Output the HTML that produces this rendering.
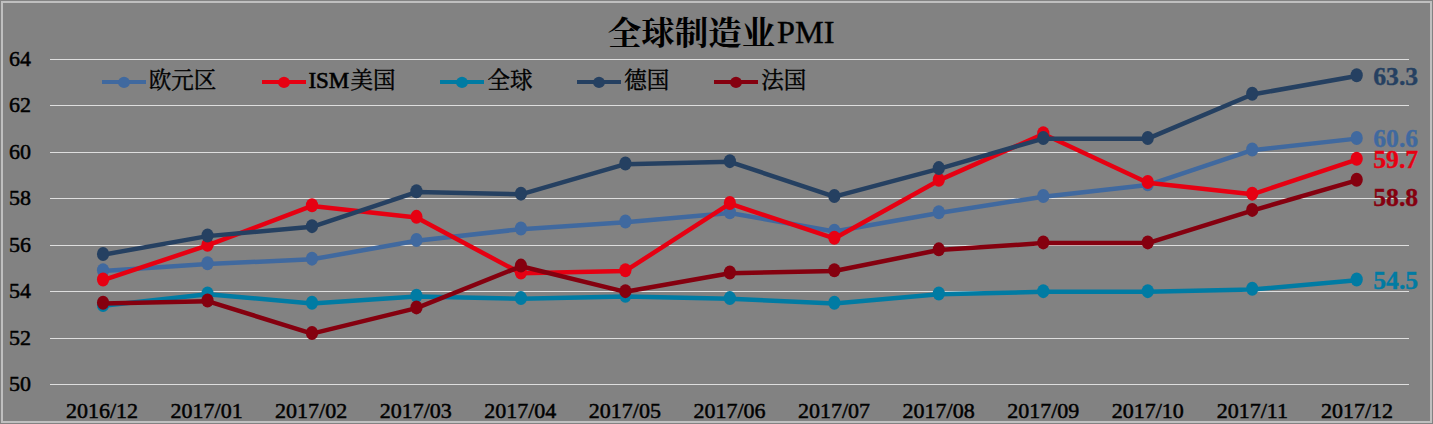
<!DOCTYPE html>
<html><head><meta charset="utf-8"><title>PMI</title>
<style>
html,body{margin:0;padding:0;background:#828282;}
body{width:1433px;height:424px;overflow:hidden;}
svg{display:block;position:absolute;left:0;top:0;}
text{font-family:"Liberation Serif","Noto Serif CJK SC",serif;}
.ax{font-size:22px;fill:#000;stroke:#000;stroke-width:0.5;}
.lb{font-size:25.7px;font-weight:bold;stroke-width:0.35;}
</style></head><body>
<svg width="1433" height="424" viewBox="0 0 1433 424">
<rect x="0" y="0" width="1433" height="424" fill="#828282"/>
<rect x="2" y="2" width="1429" height="420" fill="none" stroke="#bfbfbf" stroke-width="2"/>
<rect x="50" y="59" width="1359" height="1" fill="#dedede"/>
<text class="ax" x="9" y="66.1">64</text>
<rect x="50" y="105" width="1359" height="1" fill="#dedede"/>
<text class="ax" x="9" y="112.1">62</text>
<rect x="50" y="152" width="1359" height="1" fill="#dedede"/>
<text class="ax" x="9" y="159.1">60</text>
<rect x="50" y="198" width="1359" height="1" fill="#dedede"/>
<text class="ax" x="9" y="205.1">58</text>
<rect x="50" y="245" width="1359" height="1" fill="#dedede"/>
<text class="ax" x="9" y="252.1">56</text>
<rect x="50" y="291" width="1359" height="1" fill="#dedede"/>
<text class="ax" x="9" y="298.1">54</text>
<rect x="50" y="338" width="1359" height="1" fill="#dedede"/>
<text class="ax" x="9" y="345.1">52</text>
<rect x="50" y="384" width="1359" height="1" fill="#dedede"/>
<text class="ax" x="9" y="391.1">50</text>
<text class="ax" x="102.00" y="417.8" text-anchor="middle">2016/12</text>
<text class="ax" x="206.58" y="417.8" text-anchor="middle">2017/01</text>
<text class="ax" x="311.16" y="417.8" text-anchor="middle">2017/02</text>
<text class="ax" x="415.74" y="417.8" text-anchor="middle">2017/03</text>
<text class="ax" x="520.32" y="417.8" text-anchor="middle">2017/04</text>
<text class="ax" x="624.90" y="417.8" text-anchor="middle">2017/05</text>
<text class="ax" x="729.48" y="417.8" text-anchor="middle">2017/06</text>
<text class="ax" x="834.06" y="417.8" text-anchor="middle">2017/07</text>
<text class="ax" x="938.64" y="417.8" text-anchor="middle">2017/08</text>
<text class="ax" x="1043.22" y="417.8" text-anchor="middle">2017/09</text>
<text class="ax" x="1147.80" y="417.8" text-anchor="middle">2017/10</text>
<text class="ax" x="1252.38" y="417.8" text-anchor="middle">2017/11</text>
<text class="ax" x="1356.96" y="417.8" text-anchor="middle">2017/12</text>
<text x="607.7" y="44.5" font-size="33.5" font-weight="bold" fill="#000">全球制造业</text>
<text x="777" y="43" font-size="32.3" fill="#000" stroke="#000" stroke-width="0.4">PMI</text>
<polyline points="103.05,270.95 207.52,263.99 311.99,259.34 416.46,240.77 520.93,229.16 625.40,222.20 729.87,212.91 834.34,231.49 938.81,212.91 1043.28,196.66 1147.75,185.06 1252.22,150.24 1356.69,138.63" fill="none" stroke="#40699f" stroke-width="4.5" stroke-linejoin="round" stroke-linecap="round"/>
<ellipse cx="103.05" cy="270.25" rx="6.1" ry="7" fill="#40699f"/>
<ellipse cx="207.52" cy="263.29" rx="6.1" ry="7" fill="#40699f"/>
<ellipse cx="311.99" cy="258.64" rx="6.1" ry="7" fill="#40699f"/>
<ellipse cx="416.46" cy="240.07" rx="6.1" ry="7" fill="#40699f"/>
<ellipse cx="520.93" cy="228.46" rx="6.1" ry="7" fill="#40699f"/>
<ellipse cx="625.40" cy="221.50" rx="6.1" ry="7" fill="#40699f"/>
<ellipse cx="729.87" cy="212.21" rx="6.1" ry="7" fill="#40699f"/>
<ellipse cx="834.34" cy="230.79" rx="6.1" ry="7" fill="#40699f"/>
<ellipse cx="938.81" cy="212.21" rx="6.1" ry="7" fill="#40699f"/>
<ellipse cx="1043.28" cy="195.96" rx="6.1" ry="7" fill="#40699f"/>
<ellipse cx="1147.75" cy="184.36" rx="6.1" ry="7" fill="#40699f"/>
<ellipse cx="1252.22" cy="149.54" rx="6.1" ry="7" fill="#40699f"/>
<ellipse cx="1356.69" cy="137.93" rx="6.1" ry="7" fill="#40699f"/>
<text class="lb" x="1373.2" y="147.33" fill="#40699f" stroke="#40699f">60.6</text>
<polyline points="103.05,280.24 207.52,245.41 311.99,205.95 416.46,217.56 520.93,273.27 625.40,270.95 729.87,203.63 834.34,238.45 938.81,180.41 1043.28,133.99 1147.75,182.74 1252.22,194.34 1356.69,159.52" fill="none" stroke="#e60012" stroke-width="4.5" stroke-linejoin="round" stroke-linecap="round"/>
<ellipse cx="103.05" cy="279.54" rx="6.1" ry="7" fill="#e60012"/>
<ellipse cx="207.52" cy="244.71" rx="6.1" ry="7" fill="#e60012"/>
<ellipse cx="311.99" cy="205.25" rx="6.1" ry="7" fill="#e60012"/>
<ellipse cx="416.46" cy="216.86" rx="6.1" ry="7" fill="#e60012"/>
<ellipse cx="520.93" cy="272.57" rx="6.1" ry="7" fill="#e60012"/>
<ellipse cx="625.40" cy="270.25" rx="6.1" ry="7" fill="#e60012"/>
<ellipse cx="729.87" cy="202.93" rx="6.1" ry="7" fill="#e60012"/>
<ellipse cx="834.34" cy="237.75" rx="6.1" ry="7" fill="#e60012"/>
<ellipse cx="938.81" cy="179.71" rx="6.1" ry="7" fill="#e60012"/>
<ellipse cx="1043.28" cy="133.29" rx="6.1" ry="7" fill="#e60012"/>
<ellipse cx="1147.75" cy="182.04" rx="6.1" ry="7" fill="#e60012"/>
<ellipse cx="1252.22" cy="193.64" rx="6.1" ry="7" fill="#e60012"/>
<ellipse cx="1356.69" cy="158.82" rx="6.1" ry="7" fill="#e60012"/>
<text class="lb" x="1373.2" y="168.22" fill="#e60012" stroke="#e60012">59.7</text>
<polyline points="103.05,305.77 207.52,294.16 311.99,303.45 416.46,296.49 520.93,298.81 625.40,296.49 729.87,298.81 834.34,303.45 938.81,294.16 1043.28,291.84 1147.75,291.84 1252.22,289.52 1356.69,280.24" fill="none" stroke="#007ba3" stroke-width="4.5" stroke-linejoin="round" stroke-linecap="round"/>
<ellipse cx="103.05" cy="305.07" rx="6.1" ry="7" fill="#007ba3"/>
<ellipse cx="207.52" cy="293.46" rx="6.1" ry="7" fill="#007ba3"/>
<ellipse cx="311.99" cy="302.75" rx="6.1" ry="7" fill="#007ba3"/>
<ellipse cx="416.46" cy="295.79" rx="6.1" ry="7" fill="#007ba3"/>
<ellipse cx="520.93" cy="298.11" rx="6.1" ry="7" fill="#007ba3"/>
<ellipse cx="625.40" cy="295.79" rx="6.1" ry="7" fill="#007ba3"/>
<ellipse cx="729.87" cy="298.11" rx="6.1" ry="7" fill="#007ba3"/>
<ellipse cx="834.34" cy="302.75" rx="6.1" ry="7" fill="#007ba3"/>
<ellipse cx="938.81" cy="293.46" rx="6.1" ry="7" fill="#007ba3"/>
<ellipse cx="1043.28" cy="291.14" rx="6.1" ry="7" fill="#007ba3"/>
<ellipse cx="1147.75" cy="291.14" rx="6.1" ry="7" fill="#007ba3"/>
<ellipse cx="1252.22" cy="288.82" rx="6.1" ry="7" fill="#007ba3"/>
<ellipse cx="1356.69" cy="279.54" rx="6.1" ry="7" fill="#007ba3"/>
<text class="lb" x="1373.2" y="288.94" fill="#007ba3" stroke="#007ba3">54.5</text>
<polyline points="103.05,254.70 207.52,236.13 311.99,226.84 416.46,192.02 520.93,194.34 625.40,164.16 729.87,161.84 834.34,196.66 938.81,168.81 1043.28,138.63 1147.75,138.63 1252.22,94.52 1356.69,75.95" fill="none" stroke="#254061" stroke-width="4.5" stroke-linejoin="round" stroke-linecap="round"/>
<ellipse cx="103.05" cy="254.00" rx="6.1" ry="7" fill="#254061"/>
<ellipse cx="207.52" cy="235.43" rx="6.1" ry="7" fill="#254061"/>
<ellipse cx="311.99" cy="226.14" rx="6.1" ry="7" fill="#254061"/>
<ellipse cx="416.46" cy="191.32" rx="6.1" ry="7" fill="#254061"/>
<ellipse cx="520.93" cy="193.64" rx="6.1" ry="7" fill="#254061"/>
<ellipse cx="625.40" cy="163.46" rx="6.1" ry="7" fill="#254061"/>
<ellipse cx="729.87" cy="161.14" rx="6.1" ry="7" fill="#254061"/>
<ellipse cx="834.34" cy="195.96" rx="6.1" ry="7" fill="#254061"/>
<ellipse cx="938.81" cy="168.11" rx="6.1" ry="7" fill="#254061"/>
<ellipse cx="1043.28" cy="137.93" rx="6.1" ry="7" fill="#254061"/>
<ellipse cx="1147.75" cy="137.93" rx="6.1" ry="7" fill="#254061"/>
<ellipse cx="1252.22" cy="93.82" rx="6.1" ry="7" fill="#254061"/>
<ellipse cx="1356.69" cy="75.25" rx="6.1" ry="7" fill="#254061"/>
<text class="lb" x="1373.2" y="84.65" fill="#254061" stroke="#254061">63.3</text>
<polyline points="103.05,303.45 207.52,301.13 311.99,333.63 416.46,308.09 520.93,266.31 625.40,291.84 729.87,273.27 834.34,270.95 938.81,250.06 1043.28,243.09 1147.75,243.09 1252.22,210.59 1356.69,180.41" fill="none" stroke="#85000f" stroke-width="4.5" stroke-linejoin="round" stroke-linecap="round"/>
<ellipse cx="103.05" cy="302.75" rx="6.1" ry="7" fill="#85000f"/>
<ellipse cx="207.52" cy="300.43" rx="6.1" ry="7" fill="#85000f"/>
<ellipse cx="311.99" cy="332.93" rx="6.1" ry="7" fill="#85000f"/>
<ellipse cx="416.46" cy="307.39" rx="6.1" ry="7" fill="#85000f"/>
<ellipse cx="520.93" cy="265.61" rx="6.1" ry="7" fill="#85000f"/>
<ellipse cx="625.40" cy="291.14" rx="6.1" ry="7" fill="#85000f"/>
<ellipse cx="729.87" cy="272.57" rx="6.1" ry="7" fill="#85000f"/>
<ellipse cx="834.34" cy="270.25" rx="6.1" ry="7" fill="#85000f"/>
<ellipse cx="938.81" cy="249.36" rx="6.1" ry="7" fill="#85000f"/>
<ellipse cx="1043.28" cy="242.39" rx="6.1" ry="7" fill="#85000f"/>
<ellipse cx="1147.75" cy="242.39" rx="6.1" ry="7" fill="#85000f"/>
<ellipse cx="1252.22" cy="209.89" rx="6.1" ry="7" fill="#85000f"/>
<ellipse cx="1356.69" cy="179.71" rx="6.1" ry="7" fill="#85000f"/>
<text class="lb" x="1373.2" y="206.11" fill="#85000f" stroke="#85000f">58.8</text>
<rect x="102" y="80" width="44" height="4" fill="#40699f"/>
<ellipse cx="124" cy="82.4" rx="5.9" ry="5.6" fill="#40699f"/>
<text x="148.7" y="88.3" font-size="22.5" fill="#000" stroke="#000" stroke-width="0.4">欧元区</text>
<rect x="262" y="80" width="44" height="4" fill="#e60012"/>
<ellipse cx="284" cy="82.4" rx="5.9" ry="5.6" fill="#e60012"/>
<text x="308.40" y="88.30" font-size="23" fill="#000" stroke="#000" stroke-width="0.6">ISM</text>
<text x="350.49" y="88.3" font-size="22.5" fill="#000" stroke="#000" stroke-width="0.4">美国</text>
<rect x="440" y="80" width="44" height="4" fill="#007ba3"/>
<ellipse cx="462" cy="82.4" rx="5.9" ry="5.6" fill="#007ba3"/>
<text x="487.6" y="88.3" font-size="22.5" fill="#000" stroke="#000" stroke-width="0.4">全球</text>
<rect x="577" y="80" width="44" height="4" fill="#254061"/>
<ellipse cx="599" cy="82.4" rx="5.9" ry="5.6" fill="#254061"/>
<text x="624.3" y="88.3" font-size="22.5" fill="#000" stroke="#000" stroke-width="0.4">德国</text>
<rect x="714" y="80" width="44" height="4" fill="#85000f"/>
<ellipse cx="736" cy="82.4" rx="5.9" ry="5.6" fill="#85000f"/>
<text x="761.3" y="88.3" font-size="22.5" fill="#000" stroke="#000" stroke-width="0.4">法国</text>
</svg>
</body></html>
